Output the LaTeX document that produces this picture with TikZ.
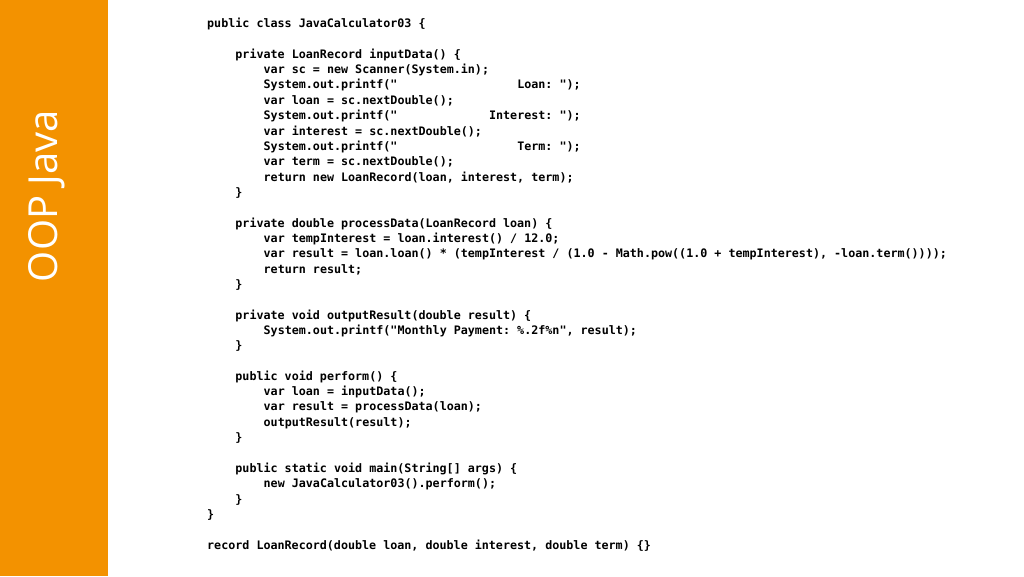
\documentclass[tikz,border=0pt]{standalone}
\usepackage{fontspec}
\setmonofont{DejaVu Sans Mono}
\newfontfamily\titlefont{Open Sans}
\definecolor{barorange}{HTML}{F39200}
\begin{document}
\begin{tikzpicture}[x=1pt,y=-1pt,
  codeline/.style={anchor=west,inner sep=0pt,font=\ttfamily\bfseries\fontsize{11.7}{14}\selectfont}]
\useasboundingbox (0,0) rectangle (1024,576);
\fill[white] (0,0) rectangle (1024,576);
\fill[barorange] (0,0) rectangle (108,576);
\node[rotate=90,text=white,font=\titlefont\fontsize{40}{44}\selectfont] (title) at (47,196) {OOP Java};
\def\cw{7.06}
\def\sp#1{\hphantom{\ttfamily\bfseries\fontsize{11.7}{14}\selectfont#1}}
\foreach \i/\ind/\t [count=\k] in {
0/0/{public class JavaCalculator03 \{},
2/4/{private LoanRecord inputData() \{},
3/8/{var sc = new Scanner(System.in);},
4/8/{System.out.printf("\sp{xxxxxxxxxxxxxxxxx}Loan: ");},
5/8/{var loan = sc.nextDouble();},
6/8/{System.out.printf("\sp{xxxxxxxxxxxxx}Interest: ");},
7/8/{var interest = sc.nextDouble();},
8/8/{System.out.printf("\sp{xxxxxxxxxxxxxxxxx}Term: ");},
9/8/{var term = sc.nextDouble();},
10/8/{return new LoanRecord(loan, interest, term);},
11/4/{\}},
13/4/{private double processData(LoanRecord loan) \{},
14/8/{var tempInterest = loan.interest() / 12.0;},
15/8/{var result = loan.loan() * (tempInterest / (1.0 - Math.pow((1.0 + tempInterest), -loan.term())));},
16/8/{return result;},
17/4/{\}},
19/4/{private void outputResult(double result) \{},
20/8/{System.out.printf("Monthly Payment: \%.2f\%n", result);},
21/4/{\}},
23/4/{public void perform() \{},
24/8/{var loan = inputData();},
25/8/{var result = processData(loan);},
26/8/{outputResult(result);},
27/4/{\}},
29/4/{public static void main(String[] args) \{},
30/8/{new JavaCalculator03().perform();},
31/4/{\}},
32/0/{\}},
34/0/{record LoanRecord(double loan, double interest, double term) \{\}}}
  \node[codeline] (l\k) at ({207+\ind*\cw},{24+15.35*\i}) {\t};
\end{tikzpicture}
\end{document}
